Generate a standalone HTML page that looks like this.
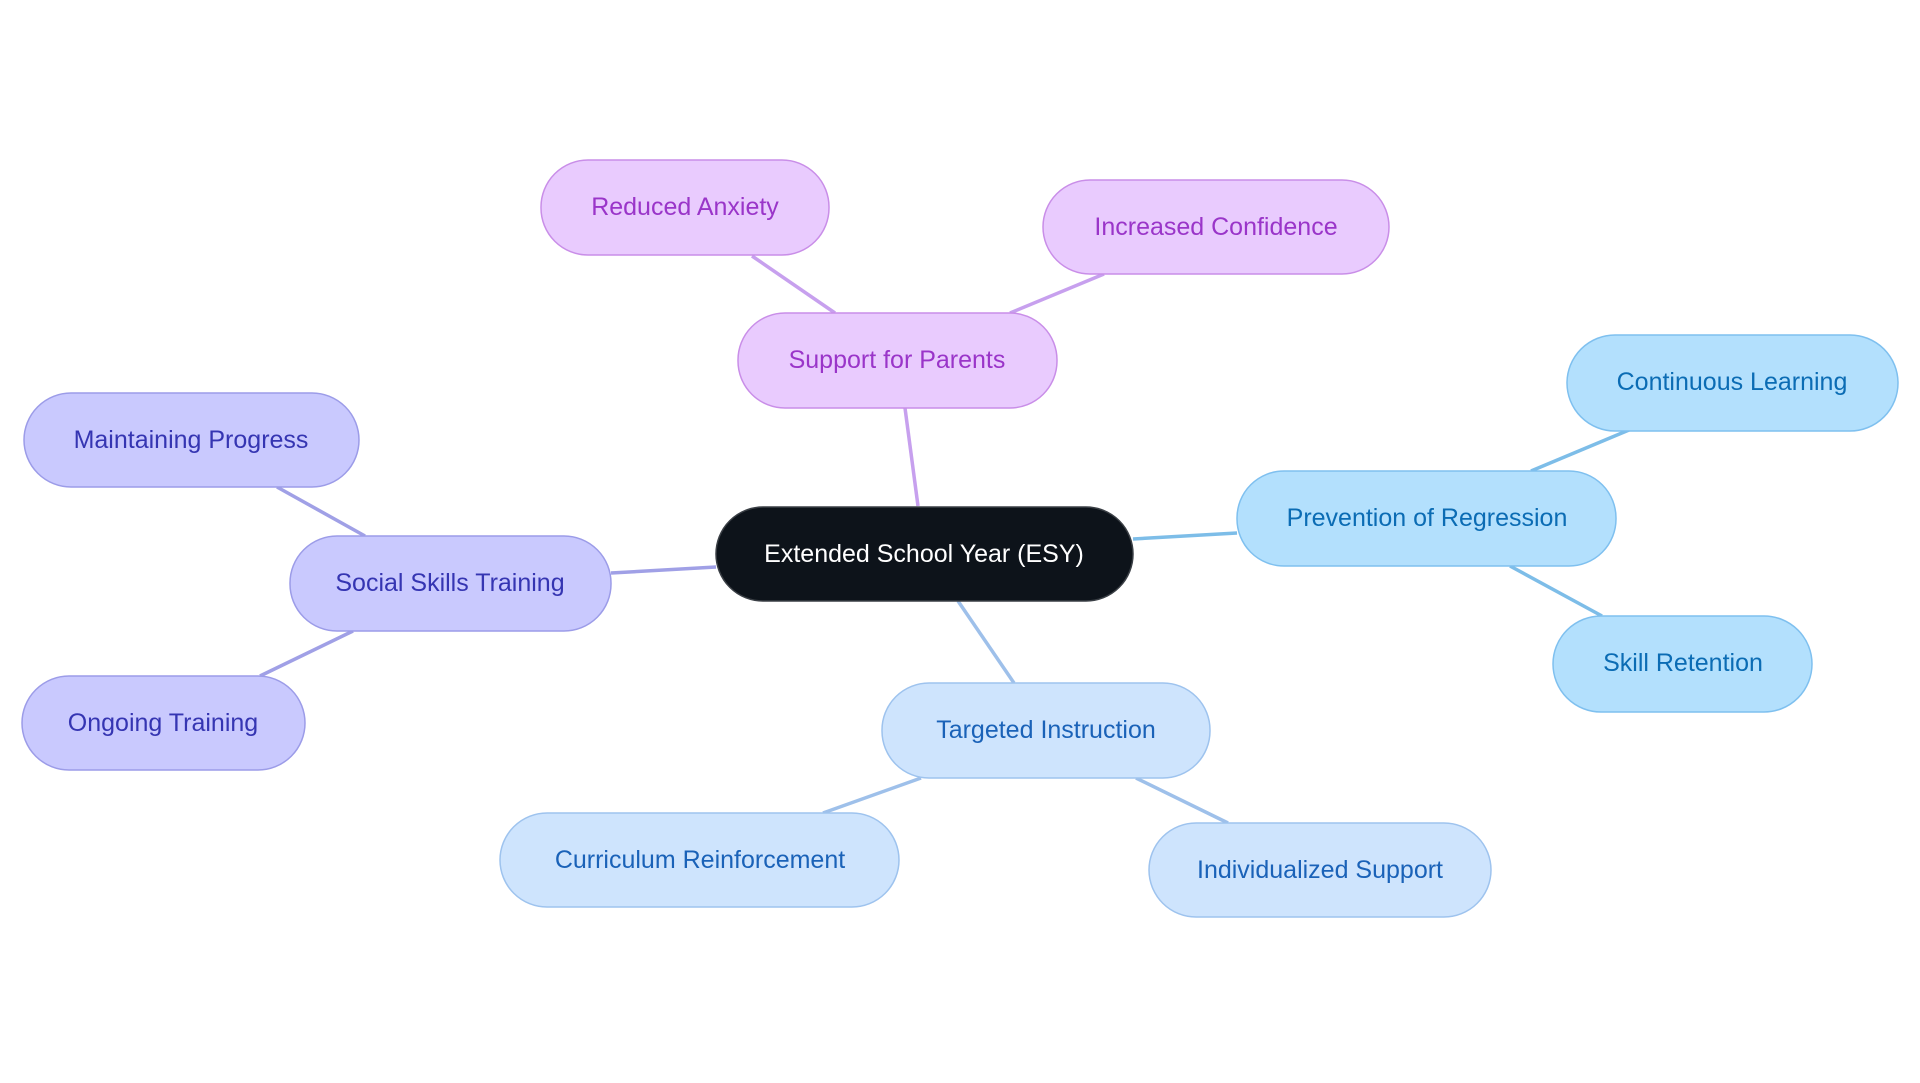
<!DOCTYPE html>
<html><head><meta charset="utf-8"><style>
html,body{margin:0;padding:0;background:#fff;}
svg{display:block;}
text{font-family:"Liberation Sans",sans-serif;font-size:25px;text-anchor:middle;dominant-baseline:central;}
</style></head><body>
<svg width="1920" height="1083" viewBox="0 0 1920 1083">
<g stroke-width="3.5" fill="none">
<line x1="918" y1="506" x2="905" y2="408" stroke="#c7a0ee"/>
<line x1="835" y1="313" x2="752" y2="256" stroke="#c7a0ee"/>
<line x1="1010" y1="313" x2="1104" y2="274" stroke="#c7a0ee"/>
<line x1="1133" y1="539" x2="1237" y2="533" stroke="#7dbde8"/>
<line x1="1531" y1="471" x2="1629" y2="430" stroke="#7dbde8"/>
<line x1="1510" y1="566" x2="1602" y2="616" stroke="#7dbde8"/>
<line x1="958" y1="601" x2="1014" y2="683" stroke="#9ec0ea"/>
<line x1="921" y1="778" x2="823" y2="813" stroke="#9ec0ea"/>
<line x1="1136" y1="778" x2="1228" y2="823" stroke="#9ec0ea"/>
<line x1="716" y1="567" x2="611" y2="573" stroke="#a0a0e6"/>
<line x1="365" y1="536" x2="277" y2="487" stroke="#a0a0e6"/>
<line x1="353" y1="631" x2="260" y2="676" stroke="#a0a0e6"/>
</g>
<g stroke-width="1.5">
<rect x="716" y="507" width="417" height="94" rx="47" fill="#0d131a" stroke="#3a3f45"/>
<text x="924" y="554" fill="#ffffff">Extended School Year (ESY)</text>

<g fill="#e9cbfe" stroke="#c98ee8">
<rect x="738" y="313" width="319" height="95" rx="47"/>
<rect x="541" y="160" width="288" height="95" rx="47"/>
<rect x="1043" y="180" width="346" height="94" rx="47"/>
</g>
<g fill="#9a35c9">
<text x="897" y="360">Support for Parents</text>
<text x="685" y="207">Reduced Anxiety</text>
<text x="1216" y="227">Increased Confidence</text>
</g>

<g fill="#b3e0fd" stroke="#7fc0ef">
<rect x="1237" y="471" width="379" height="95" rx="47"/>
<rect x="1567" y="335" width="331" height="96" rx="48"/>
<rect x="1553" y="616" width="259" height="96" rx="48"/>
</g>
<g fill="#0b6cb4">
<text x="1427" y="518">Prevention of Regression</text>
<text x="1732" y="382">Continuous Learning</text>
<text x="1683" y="663">Skill Retention</text>
</g>

<g fill="#cee4fd" stroke="#9ec3ee">
<rect x="882" y="683" width="328" height="95" rx="47"/>
<rect x="500" y="813" width="399" height="94" rx="47"/>
<rect x="1149" y="823" width="342" height="94" rx="47"/>
</g>
<g fill="#1a62b8">
<text x="1046" y="730">Targeted Instruction</text>
<text x="700" y="860">Curriculum Reinforcement</text>
<text x="1320" y="870">Individualized Support</text>
</g>

<g fill="#c9c9fe" stroke="#9c9ce8">
<rect x="290" y="536" width="321" height="95" rx="47"/>
<rect x="24" y="393" width="335" height="94" rx="47"/>
<rect x="22" y="676" width="283" height="94" rx="47"/>
</g>
<g fill="#3535b2">
<text x="450" y="583">Social Skills Training</text>
<text x="191" y="440">Maintaining Progress</text>
<text x="163" y="723">Ongoing Training</text>
</g>
</g>
</svg>
</body></html>
